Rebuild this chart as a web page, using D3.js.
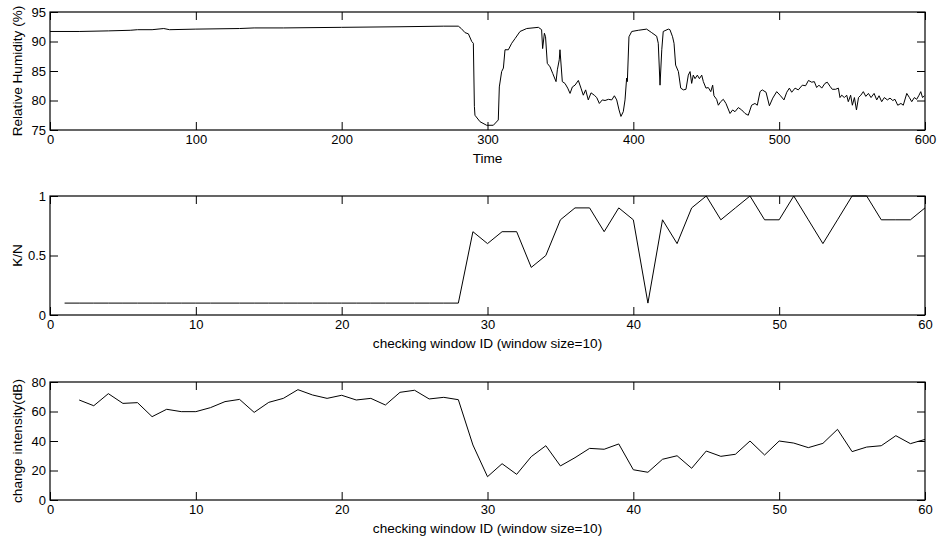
<!DOCTYPE html>
<html>
<head>
<meta charset="utf-8">
<script src="https://cdn.jsdelivr.net/npm/d3@7"></script>
<style>
  body { margin: 0; background: #fff; }
  svg { font-family: "Liberation Sans", Arial, Helvetica, sans-serif; }
  .tick text { font-size: 13px; fill: #000; }
  .axis-label { font-size: 13.6px; fill: #000; }
</style>
</head>
<body>
<div id="chart"></div>
<script>
// ---- data ----
// top panel: relative humidity over time
var timeT = [0, 20, 40, 55, 60, 70, 78, 82, 100, 130, 140, 160, 200, 240, 270, 280,
  282, 284.6, 286.9, 289.2, 290.3, 291, 291.4, 294.9, 299.4, 304, 307.4, 308.1, 309.7,
  310.9, 312, 314.3, 316.6, 318.9, 322.3, 326.9, 334.9, 337.1, 337.8, 339, 339.8, 341,
  342.9, 344.7, 347, 347.9, 349.2, 349.7, 351.3, 353.1, 355, 356.6, 358.2, 360, 362.3,
  364.1, 365.7, 367.3, 369.1, 371, 373.2, 374.9, 376.7, 378.7, 380.6, 382.9, 385.2, 387,
  388.6, 390.2, 391.5, 393.1, 394.3, 395.4, 395.9, 397, 398.9, 403.4, 409.1, 412.6, 416,
  417.1, 418.3, 419.5, 420.5, 424, 425.1, 426.9, 427.9, 429, 430.9, 432.5, 434.3, 436.1,
  437.7, 438.9, 440, 441.1, 442.3, 443.9, 445.3, 446.9, 448, 449.8, 451.4, 453.1, 454.4,
  455.3, 457.1, 458.3, 459.9, 461.7, 463.5, 466.3, 468.1, 469.7, 472, 474.3, 476.6, 478.8,
  481.1, 483.4, 485, 486.9, 488.4, 491, 493.3, 495.6, 498.3, 500.6, 503.3, 505.2, 507,
  508.6, 510.9, 513.1, 515.9, 518.1, 520.1, 522.3, 524.1, 525.7, 527.3, 529.2, 531.4, 533,
  534.9, 536.4, 538.7, 540.6, 541.7, 542.9, 544.7, 546.3, 547.4, 549, 550.2, 551.6, 553,
  554.4, 556, 557.7, 559.4, 561.2, 563, 565.1, 566.9, 568.5, 570.3, 572.1, 574.2, 576,
  577.9, 579.4, 581.3, 583.5, 585.1, 587.5, 589.3, 590.9, 592.7, 594.3, 595.9, 597.1,
  598.3, 599.6];
var humidity = [91.7, 91.7, 91.8, 91.9, 92.0, 92.0, 92.2, 92.0, 92.1, 92.2, 92.3, 92.3, 92.4, 92.5, 92.6, 92.6,
  92.2, 91.5, 91.3, 90.0, 89.7, 79.0, 77.5, 76.4, 75.8, 75.8, 76.7, 82.3, 84.9,
  85.5, 88.6, 88.6, 89.7, 90.5, 91.7, 92.2, 92.4, 92.0, 88.8, 91.4, 90.8, 86.3,
  85.7, 84.6, 83.2, 85.2, 86.9, 88.6, 83.2, 82.9, 82.1, 81.2, 82.3, 82.6, 83.4,
  82.1, 80.9, 81.8, 80.1, 81.3, 80.9, 80.5, 79.5, 80.1, 80.0, 80.2, 80.1, 80.8,
  80.1, 78.4, 77.3, 78.1, 80.1, 83.8, 83.2, 90.8, 91.7, 91.9, 92.1, 91.5, 90.9,
  89.7, 82.6, 88.6, 91.7, 92.1, 92.0, 90.8, 89.7, 86.0, 84.9, 82.1, 81.8, 81.9,
  84.3, 84.9, 82.9, 84.3, 83.7, 84.3, 83.7, 84.3, 83.2, 82.1, 82.2, 81.5, 82.6,
  80.8, 80.2, 79.2, 79.8, 80.2, 79.5, 77.8, 78.4, 78.1, 78.8, 78.4, 77.8, 77.5,
  79.2, 79.5, 79.2, 81.5, 81.8, 81.4, 79.1, 80.4, 81.5, 80.9, 80.1, 81.4, 82.1,
  81.4, 82.1, 81.8, 82.6, 82.5, 83.4, 83.1, 83.2, 82.2, 82.6, 82.1, 82.9, 83.1,
  82.4, 81.9, 81.9, 82.1, 80.5, 80.9, 80.5, 80.9, 79.8, 80.9, 79.2, 80.5, 78.4,
  80.5, 80.9, 81.5, 80.7, 81.2, 80.5, 81.2, 80.1, 80.8, 79.8, 80.5, 80.1, 80.4,
  80.0, 80.2, 79.2, 79.5, 79.2, 81.2, 80.5, 79.8, 80.5, 80.2, 80.9, 81.5,
  80.5, 80.8];

// middle panel: K/N per checking window
var windowId = d3.range(1, 61);
var kn = [0.1, 0.1, 0.1, 0.1, 0.1, 0.1, 0.1, 0.1, 0.1, 0.1,
  0.1, 0.1, 0.1, 0.1, 0.1, 0.1, 0.1, 0.1, 0.1, 0.1,
  0.1, 0.1, 0.1, 0.1, 0.1, 0.1, 0.1, 0.1, 0.7, 0.6,
  0.7, 0.7, 0.4, 0.5, 0.8, 0.9, 0.9, 0.7, 0.9, 0.8,
  0.1, 0.8, 0.6, 0.9, 1.0, 0.8, 0.9, 1.0, 0.8, 0.8,
  1.0, 0.8, 0.6, 0.8, 1.0, 1.0, 0.8, 0.8, 0.8, 0.9];

// bottom panel: change intensity (dB), windows 2..60
var intensityId = d3.range(2, 61);
var intensity = [67.8, 63.9, 72.1, 65.5, 66.0, 56.5, 61.5, 59.9, 59.9,
  62.6, 66.7, 68.2, 59.4, 66.2, 68.9, 74.8, 71.2, 68.9, 71.0,
  67.8, 68.9, 64.4, 73.0, 74.4, 68.5, 69.6, 68.0, 37.3, 15.8,
  24.6, 17.4, 29.4, 36.8, 23.1, 28.7, 35.0, 34.4, 38.0, 20.5,
  18.8, 27.6, 30.0, 21.5, 33.2, 29.6, 31.0, 40.0, 30.5, 40.0,
  38.6, 35.5, 38.4, 47.9, 32.8, 35.9, 36.8, 43.6, 38.2, 41.1];

var svgWidth = 937;
var svgHeight = 541;
var plotLeft = 50;
var plotRight = 925;
var tickLen = 8;

var svg = d3.select("#chart")
  .append("svg")
  .attr("width", svgWidth)
  .attr("height", svgHeight);

// draws one matlab-style boxed panel
function drawPanel(cfg) {
  var x = d3.scaleLinear().domain(cfg.xDomain).range([plotLeft, plotRight]);
  var y = d3.scaleLinear().domain(cfg.yDomain).range([cfg.bottom, cfg.top]);

  var g = svg.append("g");

  // bottom axis with labels, ticks pointing inward
  g.append("g")
    .attr("transform", `translate(0, ${cfg.bottom})`)
    .call(d3.axisBottom(x).tickValues(cfg.xTicks).tickSizeInner(-tickLen).tickSizeOuter(0).tickPadding(5).tickFormat(d3.format("")))
    .call(a => a.select(".domain").remove());

  // top axis, ticks only
  g.append("g")
    .attr("transform", `translate(0, ${cfg.top})`)
    .call(d3.axisTop(x).tickValues(cfg.xTicks).tickSizeInner(-tickLen).tickSizeOuter(0).tickFormat(""))
    .call(a => a.select(".domain").remove());

  // left axis with labels
  g.append("g")
    .attr("transform", `translate(${plotLeft}, 0)`)
    .call(d3.axisLeft(y).tickValues(cfg.yTicks).tickSizeInner(-tickLen).tickSizeOuter(0).tickPadding(4).tickFormat(d3.format("")))
    .call(a => a.select(".domain").remove());

  // right axis, ticks only
  g.append("g")
    .attr("transform", `translate(${plotRight}, 0)`)
    .call(d3.axisRight(y).tickValues(cfg.yTicks).tickSizeInner(-tickLen).tickSizeOuter(0).tickFormat(""))
    .call(a => a.select(".domain").remove());

  g.selectAll(".tick line").attr("stroke", "#000");

  // box
  g.append("rect")
    .attr("x", plotLeft)
    .attr("y", cfg.top)
    .attr("width", plotRight - plotLeft)
    .attr("height", cfg.bottom - cfg.top)
    .attr("fill", "none")
    .attr("stroke", "#000")
    .attr("stroke-width", 1.2);

  // data line
  var line = d3.line()
    .x((d, i) => x(cfg.xs[i]))
    .y(d => y(d));

  g.append("path")
    .datum(cfg.ys)
    .attr("d", line)
    .attr("fill", "none")
    .attr("stroke", "#000")
    .attr("stroke-width", 1);

  // axis titles
  g.append("text")
    .attr("class", "axis-label")
    .attr("x", (plotLeft + plotRight) / 2)
    .attr("y", cfg.bottom + 33)
    .attr("text-anchor", "middle")
    .text(cfg.xLabel);

  g.append("text")
    .attr("class", "axis-label")
    .attr("transform", `translate(22, ${(cfg.top + cfg.bottom) / 2}) rotate(-90)`)
    .attr("text-anchor", "middle")
    .text(cfg.yLabel);
}

drawPanel({
  top: 12, bottom: 130,
  xDomain: [0, 600], yDomain: [75, 95],
  xTicks: [0, 100, 200, 300, 400, 500, 600],
  yTicks: [75, 80, 85, 90, 95],
  xs: timeT, ys: humidity,
  xLabel: "Time",
  yLabel: "Relative Humidity (%)"
});

drawPanel({
  top: 196, bottom: 315,
  xDomain: [0, 60], yDomain: [0, 1],
  xTicks: [0, 10, 20, 30, 40, 50, 60],
  yTicks: [0, 0.5, 1],
  xs: windowId, ys: kn,
  xLabel: "checking window ID (window size=10)",
  yLabel: "K/N"
});

drawPanel({
  top: 382, bottom: 500,
  xDomain: [0, 60], yDomain: [0, 80],
  xTicks: [0, 10, 20, 30, 40, 50, 60],
  yTicks: [0, 20, 40, 60, 80],
  xs: intensityId, ys: intensity,
  xLabel: "checking window ID (window size=10)",
  yLabel: "change intensity(dB)"
});
</script>
</body>
</html>
